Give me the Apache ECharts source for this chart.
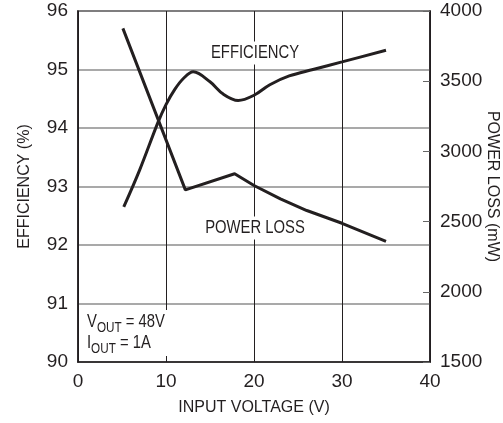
<!DOCTYPE html>
<html>
<head>
<meta charset="utf-8">
<script src="https://cdn.jsdelivr.net/npm/echarts@6/dist/echarts.min.js"></script>
<style>html,body{margin:0;padding:0;background:#fff}#c{width:503px;height:423px}</style>
</head>
<body>
<div id="c"></div>
<script>
// Data
const efficiency = [
  [5.2, 92.65], [7, 93.28], [9.1, 94.1], [10, 94.4], [11, 94.66], [12, 94.85],
  [13.1, 94.96], [15, 94.79], [16.5, 94.58], [18.2, 94.47], [20, 94.56],
  [21.8, 94.74], [24, 94.89], [26.7, 95.0], [30, 95.13], [35, 95.33]
];
const powerLoss = [
  [5.1, 3876], [12.2, 2726], [17.8, 2841], [20, 2757], [23, 2662],
  [26, 2579], [30, 2488], [35, 2359]
];
const xTicks = [0, 10, 20, 30, 40];
const effTicks = [90, 91, 92, 93, 94, 95, 96];
const lossTicks = [1500, 2000, 2500, 3000, 3500, 4000];

const FONT = '"Liberation Sans", Arial, sans-serif';
const INK = '#231f20';
const SX = 0.78;

const chart = echarts.init(document.getElementById('c'), null, {renderer: 'canvas'});
chart.setOption({
  animation: false,
  backgroundColor: '#fff',
  textStyle: {fontFamily: FONT, color: INK},
  grid: {left: 78, right: 73, top: 11, bottom: 61, containLabel: false, outerBoundsMode: 'none',
    show: true, borderColor: INK, borderWidth: 1.5, backgroundColor: 'transparent'},
  xAxis: {
    type: 'value', min: xTicks[0], max: xTicks[xTicks.length - 1], interval: 10,
    name: 'INPUT VOLTAGE (V)', nameLocation: 'middle', nameGap: 38, nameMoveOverlap: false,
    nameTextStyle: {fontFamily: FONT, fontSize: 16, color: INK},
    axisLine: {show: true, lineStyle: {color: INK, width: 1.5}},
    axisTick: {show: false},
    axisLabel: {fontFamily: FONT, fontSize: 19, color: INK, margin: 10},
    splitLine: {show: true, lineStyle: {color: INK, width: 1}}
  },
  yAxis: [{
    type: 'value', min: effTicks[0], max: effTicks[effTicks.length - 1], interval: 1,
    name: 'EFFICIENCY (%)', nameLocation: 'middle', nameGap: 45, nameRotate: 90, nameMoveOverlap: false,
    nameTextStyle: {fontFamily: FONT, fontSize: 16, color: INK},
    axisLine: {show: true, lineStyle: {color: INK, width: 1.5}},
    axisTick: {show: false},
    axisLabel: {fontFamily: FONT, fontSize: 19, color: INK, margin: 10},
    splitLine: {show: true, lineStyle: {color: '#8c8c8c', width: 1.5}}
  }, {
    type: 'value', min: lossTicks[0], max: lossTicks[lossTicks.length - 1], interval: 500,
    position: 'right',
    name: 'POWER LOSS (mW)', nameLocation: 'middle', nameGap: 54, nameRotate: -90, nameMoveOverlap: false,
    nameTextStyle: {fontFamily: FONT, fontSize: 16, color: INK},
    axisLine: {show: true, lineStyle: {color: INK, width: 1.5}},
    axisTick: {show: true, inside: true, length: 7, lineStyle: {color: '#666', width: 1}},
    axisLabel: {fontFamily: FONT, fontSize: 19, color: INK, margin: 10, formatter: v => String(v)},
    splitLine: {show: false}
  }],
  series: [{
    name: 'EFFICIENCY', type: 'line', yAxisIndex: 0, data: efficiency,
    smooth: 0.35, showSymbol: false, lineStyle: {color: INK, width: 3}, z: 5
  }, {
    name: 'POWER LOSS', type: 'line', yAxisIndex: 1, data: powerLoss,
    smooth: false, showSymbol: false, lineStyle: {color: INK, width: 3}, z: 5
  }],
  graphic: [{
    type: 'text', z: 10, x: 255, y: 53, scaleX: SX,
    style: {text: 'EFFICIENCY', font: '19px ' + FONT, fill: INK, align: 'center', verticalAlign: 'middle', backgroundColor: '#fff', padding: [2, 3]}
  }, {
    type: 'text', z: 10, x: 255, y: 228, scaleX: SX,
    style: {text: 'POWER LOSS', font: '19px ' + FONT, fill: INK, align: 'center', verticalAlign: 'middle', backgroundColor: '#fff', padding: [2, 3]}
  }, {
    type: 'text', z: 10, x: 87, y: 310, scaleX: SX,
    style: {
      text: '{m|V}{s|OUT}{m| = 48V}\n{m|I}{s|OUT}{m| = 1A}',
      fill: INK, backgroundColor: '#fff', padding: [0, 6, 4, 0],
      rich: {
        m: {fontFamily: FONT, fontSize: 19, color: INK, lineHeight: 21, verticalAlign: 'bottom'},
        s: {fontFamily: FONT, fontSize: 15, color: INK, lineHeight: 21, verticalAlign: 'bottom', padding: [0, 0, -4, 0]}
      }
    }
  }]
});
</script>
</body>
</html>
